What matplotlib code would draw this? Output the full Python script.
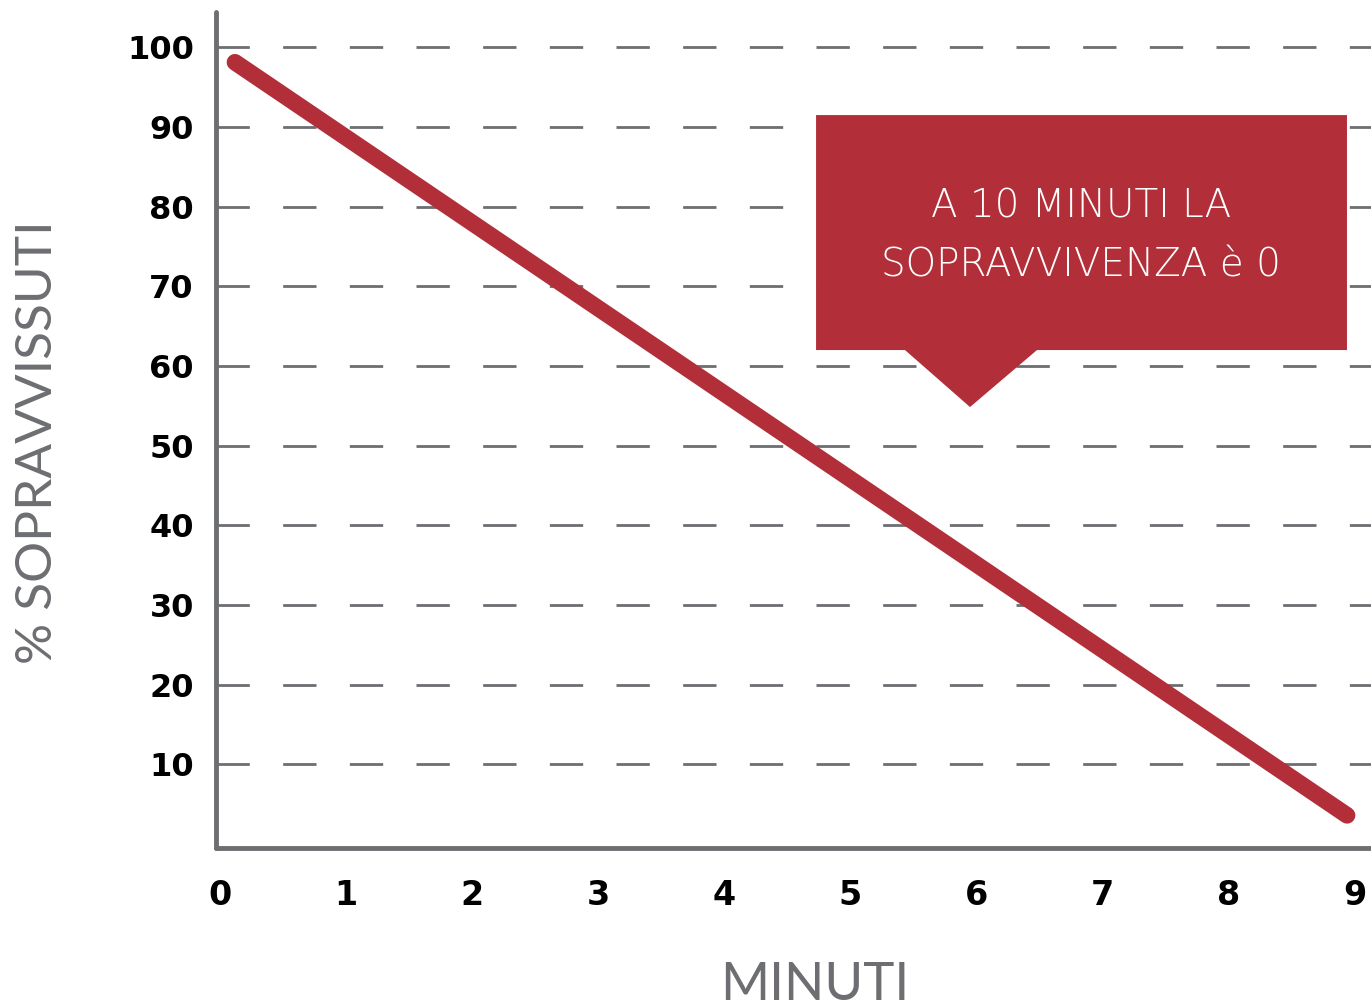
import matplotlib
matplotlib.use('Agg')
import matplotlib.pyplot as plt
from matplotlib.patches import Polygon

# dati: sopravvivenza (%) in funzione dei minuti
minuti = [0.12, 8.94]
sopravvissuti = [98.1, 3.6]
xticks = [0, 1, 2, 3, 4, 5, 6, 7, 8, 9]
yticks = [10, 20, 30, 40, 50, 60, 70, 80, 90, 100]
nota = ["A 10 MINUTI LA", "SOPRAVVIVENZA è 0"]

ROSSO = '#b22f3a'
GRIGIO = '#6d6e71'

plt.rcParams['font.family'] = ['Lato', 'DejaVu Sans']

fig = plt.figure(figsize=(13.71, 10.07), dpi=100)
ax = fig.add_axes([0.1576, 0.1579, 1 - 0.1576, 0.988 - 0.1579])

ax.set_xlim(-0.03, 9.13)
ax.set_ylim(-0.5, 104.4)

# griglia tratteggiata orizzontale
for v in yticks:
    ax.axhline(v, color=GRIGIO, lw=2, dashes=(12, 12), dash_capstyle='butt', zorder=1)

ax.plot(minuti, sopravvissuti, color=ROSSO, lw=12, solid_capstyle='round', zorder=3)

for s in ['top', 'right']:
    ax.spines[s].set_visible(False)
for s in ['left', 'bottom']:
    ax.spines[s].set_color(GRIGIO)
    ax.spines[s].set_linewidth(3.5)
    ax.spines[s].set_capstyle('round')

ax.set_xticks(xticks)
ax.set_yticks(yticks)
ax.tick_params(length=0, labelcolor='black')
ax.tick_params(axis='x', pad=22, labelsize=24)
ax.tick_params(axis='y', pad=16, labelsize=23)
for lab in ax.get_xticklabels() + ax.get_yticklabels():
    lab.set_fontfamily('DejaVu Sans')
    lab.set_fontweight('bold')

# titoli degli assi
fig.text(815 / 1371, 1 - 985 / 1007, 'MINUTI', ha='center', va='center',
         fontsize=38, color=GRIGIO)
fig.text(38 / 1371, 1 - 442 / 1007, '% SOPRAVVISSUTI', ha='center', va='center',
         rotation=90, fontsize=37, color=GRIGIO)

# riquadro con freccia
box = Polygon([(0.5195, 0.8768), (0.9792, 0.8768), (0.9792, 0.5957),
               (0.7108, 0.5957), (0.6528, 0.5275), (0.5965, 0.5957),
               (0.5195, 0.5957)], closed=True, transform=ax.transAxes,
              facecolor=ROSSO, edgecolor='none', zorder=4)
ax.add_patch(box)
for testo, yy in zip(nota, [0.767, 0.697]):
    ax.text(0.749, yy, testo, transform=ax.transAxes, ha='center', va='center',
            color='white', fontsize=28, fontfamily='DejaVu Sans',
            fontweight='light', zorder=5)

fig.savefig('out.png', dpi=100)
